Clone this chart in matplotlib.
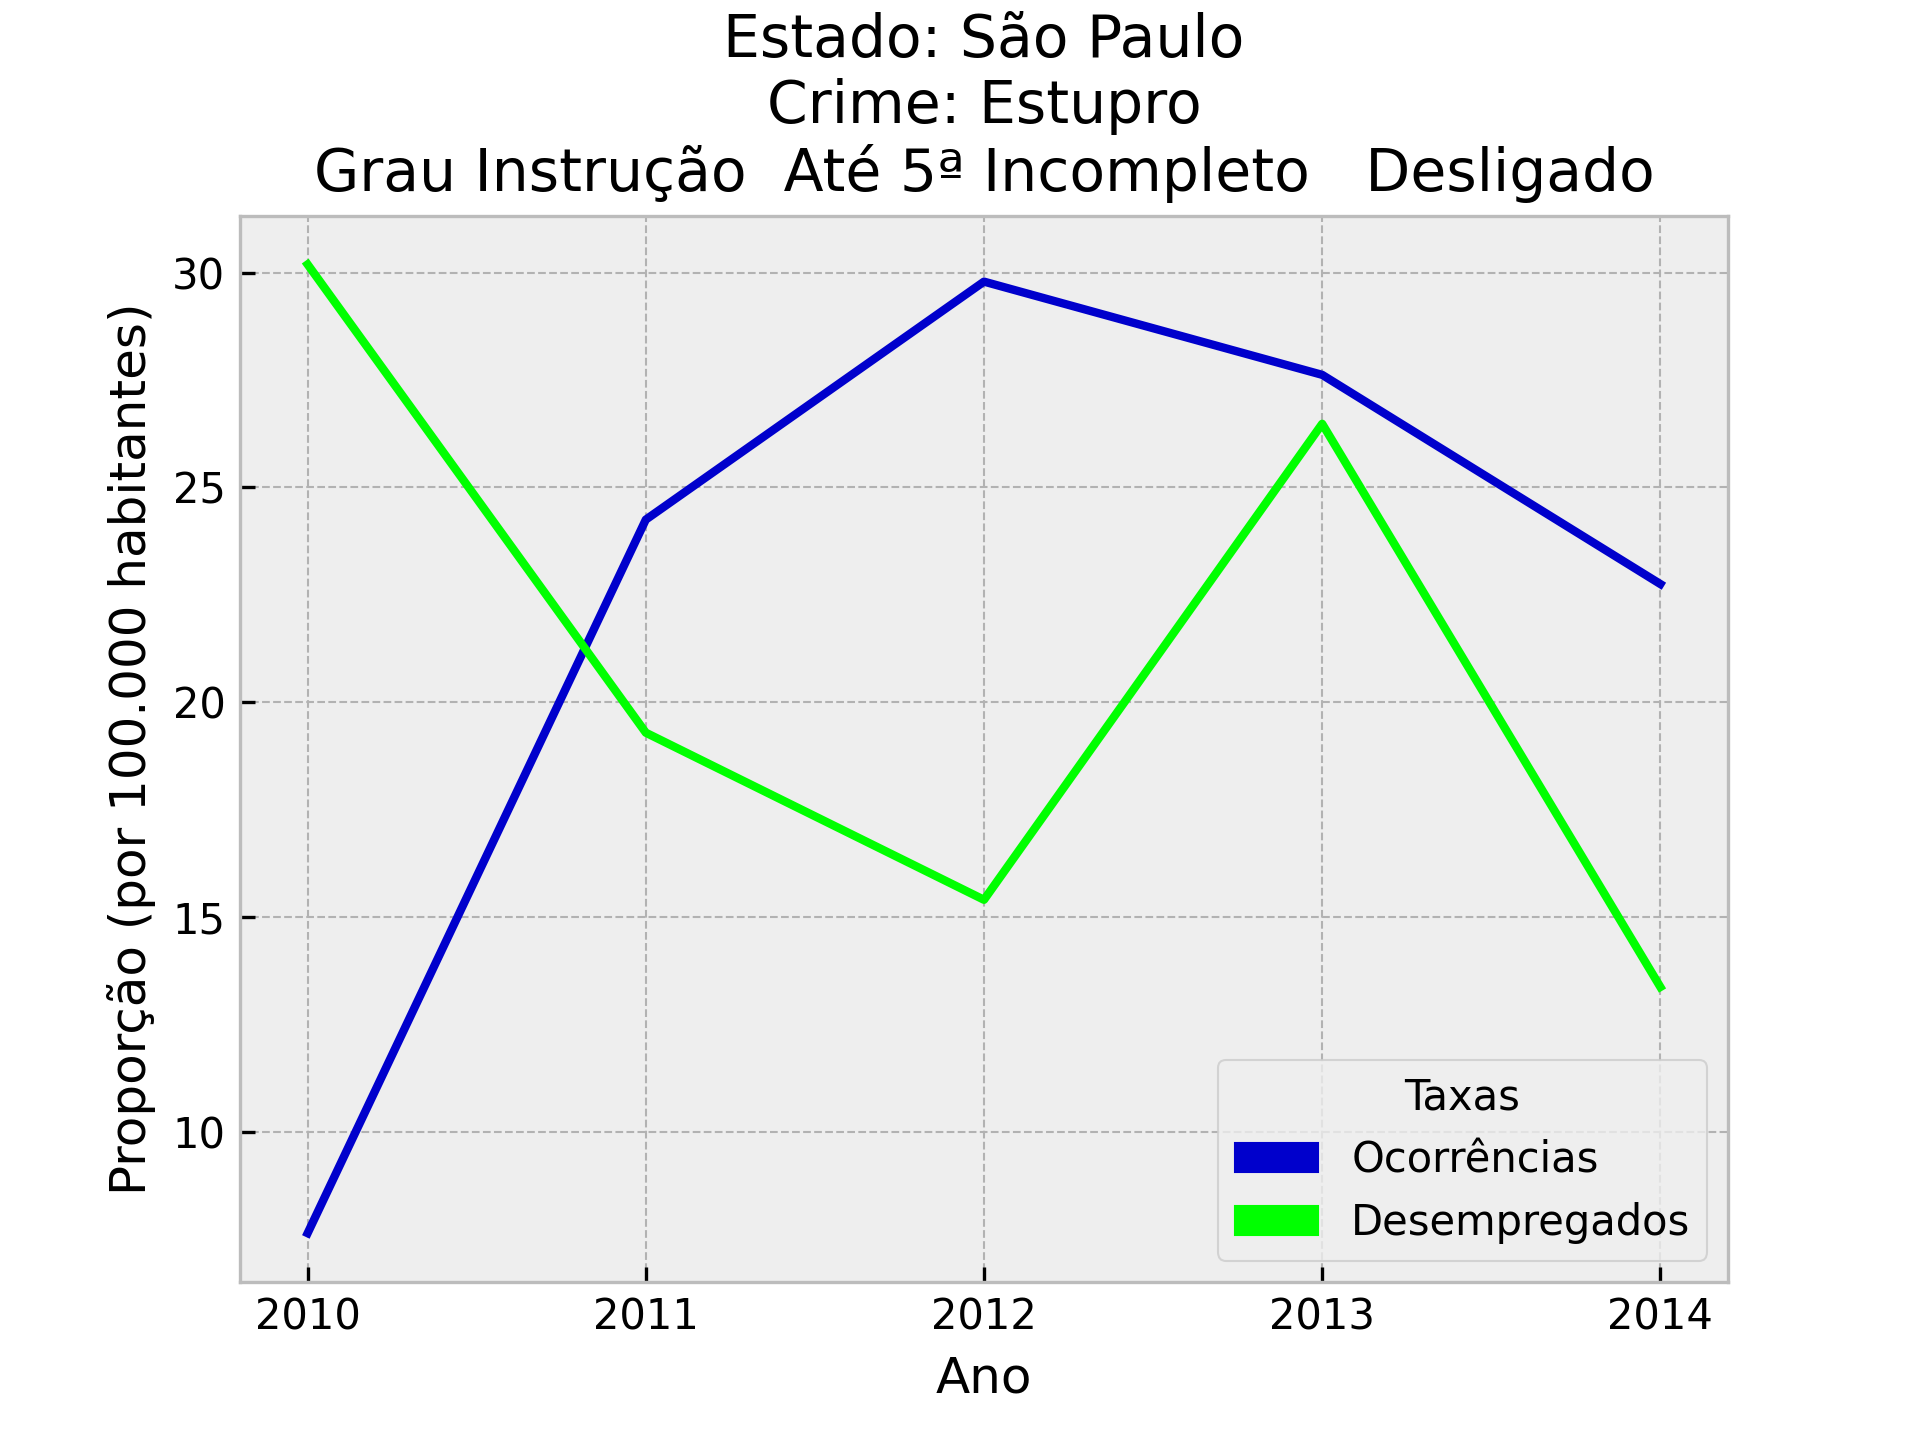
import matplotlib
matplotlib.use('Agg')
import matplotlib.pyplot as plt
import matplotlib.patches as mpatches

# Dados
anos = [2010, 2011, 2012, 2013, 2014]
ocorrencias = [7.64, 24.25, 29.79, 27.62, 22.75]
desempregados = [30.19, 19.29, 15.40, 26.48, 13.37]

cor_ocorr = '#0000CC'
cor_desemp = '#00FF00'

plt.style.use('bmh')

fig, ax = plt.subplots(figsize=(6.4, 4.8), dpi=300)
fig.subplots_adjust(top=0.85)

ax.plot(anos, ocorrencias, color=cor_ocorr)
ax.plot(anos, desempregados, color=cor_desemp)

ax.set_xticks(anos)
ax.set_title('Estado: São Paulo\nCrime: Estupro\n'
             'Grau Instrução  Até 5ª Incompleto   Desligado', fontsize=14)
ax.set_xlabel('Ano')
ax.set_ylabel('Proporção (por 100.000 habitantes)')

# legenda com retangulos
handles = [mpatches.Patch(color=cor_ocorr, label='Ocorrências'),
           mpatches.Patch(color=cor_desemp, label='Desempregados')]
ax.legend(handles=handles, title='Taxas', loc='lower right')

fig.savefig('out.png', dpi=300)
